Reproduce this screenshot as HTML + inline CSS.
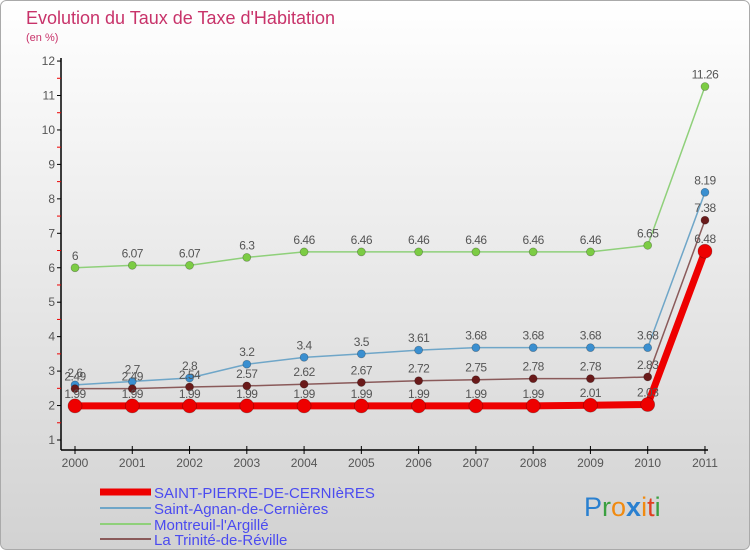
<!DOCTYPE html>
<html><head><meta charset="utf-8"><style>
body{margin:0;width:750px;height:550px;overflow:hidden;font-family:"Liberation Sans",sans-serif}
</style></head><body>
<svg width="750" height="550" xmlns="http://www.w3.org/2000/svg">
<defs><linearGradient id="bg" x1="0" y1="0" x2="0" y2="1"><stop offset="0" stop-color="#ffffff"/><stop offset="1" stop-color="#d2d2d2"/></linearGradient></defs>
<rect x="0.5" y="0.5" width="749" height="549" rx="6" fill="url(#bg)" stroke="#aaa"/>
<text x="26" y="24" font-size="18" fill="#c8336a">Evolution du Taux de Taxe d'Habitation</text>
<text x="26" y="41" font-size="11" fill="#c8336a">(en %)</text>
<g id="axes"></g><g id="series"></g>
<g font-size="15" fill="#4b4bf0">
<line x1="100" y1="492" x2="151" y2="492" stroke="#ee0000" stroke-width="7"/>
<text x="154" y="498">SAINT-PIERRE-DE-CERNIèRES</text>
<line x1="100" y1="508" x2="151" y2="508" stroke="#6fa6c8" stroke-width="2"/>
<text x="154" y="514">Saint-Agnan-de-Cernières</text>
<line x1="100" y1="524" x2="151" y2="524" stroke="#8fd07a" stroke-width="2"/>
<text x="154" y="530">Montreuil-l'Argillé</text>
<line x1="100" y1="539" x2="151" y2="539" stroke="#8a5a5a" stroke-width="2"/>
<text x="154" y="545">La Trinité-de-Réville</text>
</g>
<text x="584" y="516" font-size="27" fill="#2a80d0">P<tspan fill="#3aa040">r</tspan><tspan fill="#f08a10">o</tspan><tspan fill="#2a80d0" font-weight="bold">x</tspan><tspan fill="#f08a10">i</tspan><tspan fill="#e04020">t</tspan><tspan fill="#3aa040">i</tspan></text>
</svg>
<script>
const years=["2000","2001","2002","2003","2004","2005","2006","2007","2008","2009","2010","2011"];
const yTicks=[1,2,3,4,5,6,7,8,9,10,11,12];
const redVals=[1.99,1.99,1.99,1.99,1.99,1.99,1.99,1.99,1.99,2.01,2.03,6.48];
const blueVals=[2.6,2.7,2.8,3.2,3.4,3.5,3.61,3.68,3.68,3.68,3.68,8.19];
const greenVals=[6,6.07,6.07,6.3,6.46,6.46,6.46,6.46,6.46,6.46,6.65,11.26];
const brownVals=[2.49,2.49,2.54,2.57,2.62,2.67,2.72,2.75,2.78,2.78,2.83,7.38];
const NS="http://www.w3.org/2000/svg";
const X=i=>75+i*57.27, Y=v=>440-(v-1)*34.45;
function mk(t,a,p){const e=document.createElementNS(NS,t);for(const k in a)e.setAttribute(k,a[k]);p.appendChild(e);return e;}
const ax=document.getElementById('axes');
let l=mk('line',{x1:61,y1:58,x2:61,y2:450,stroke:'#000','stroke-width':1.5},ax);


l=mk('line',{x1:61,y1:450,x2:708,y2:450,stroke:'#000','stroke-width':1.5},ax);


yTicks.forEach(v=>{
 mk('line',{x1:57,y1:Y(v),x2:61,y2:Y(v),stroke:'#000'},ax);
 if(v<12)mk('line',{x1:57,y1:Y(v+0.5),x2:61,y2:Y(v+0.5),stroke:'#e00'},ax);
 const t=mk('text',{x:55,y:Y(v)+4,'font-size':12,fill:'#555','text-anchor':'end'},ax);t.textContent=v;
 
 
});
years.forEach((y,i)=>{
 mk('line',{x1:X(i),y1:446,x2:X(i),y2:454,stroke:'#000'},ax);
 const t=mk('text',{x:X(i),y:467,'font-size':12,fill:'#555','text-anchor':'middle'},ax);t.textContent=y;
 
 
});
const sg=document.getElementById('series');
function series(vals,color,w,r,name,dot){
 const g=mk('g',{},sg);
 
 
 mk('polyline',{points:vals.map((v,i)=>X(i)+','+Y(v)).join(' '),fill:'none',stroke:color,'stroke-width':w,'stroke-linejoin':'round'},g);
 vals.forEach((v,i)=>{
  const c=mk('circle',{cx:X(i),cy:Y(v),r:r,fill:dot,stroke:'rgba(0,0,0,0.3)','stroke-width':0.7},g);
  
  
  const t=mk('text',{x:X(i),y:Y(v)-8,'font-size':12,fill:'#555','text-anchor':'middle','letter-spacing':'-0.5'},g);t.textContent=v;
 });
}
series(greenVals,'#8fd07a',1.5,4,'series-montreuil','#7ccc44');
series(blueVals,'#6fa6c8',1.5,4,'series-saint-agnan','#3a8fd0');
series(brownVals,'#8a5a5a',1.5,4,'series-la-trinite','#6a1a1a');
series(redVals,'#ee0000',7,7,'series-saint-pierre','#ee0000');
</script>
</body></html>
